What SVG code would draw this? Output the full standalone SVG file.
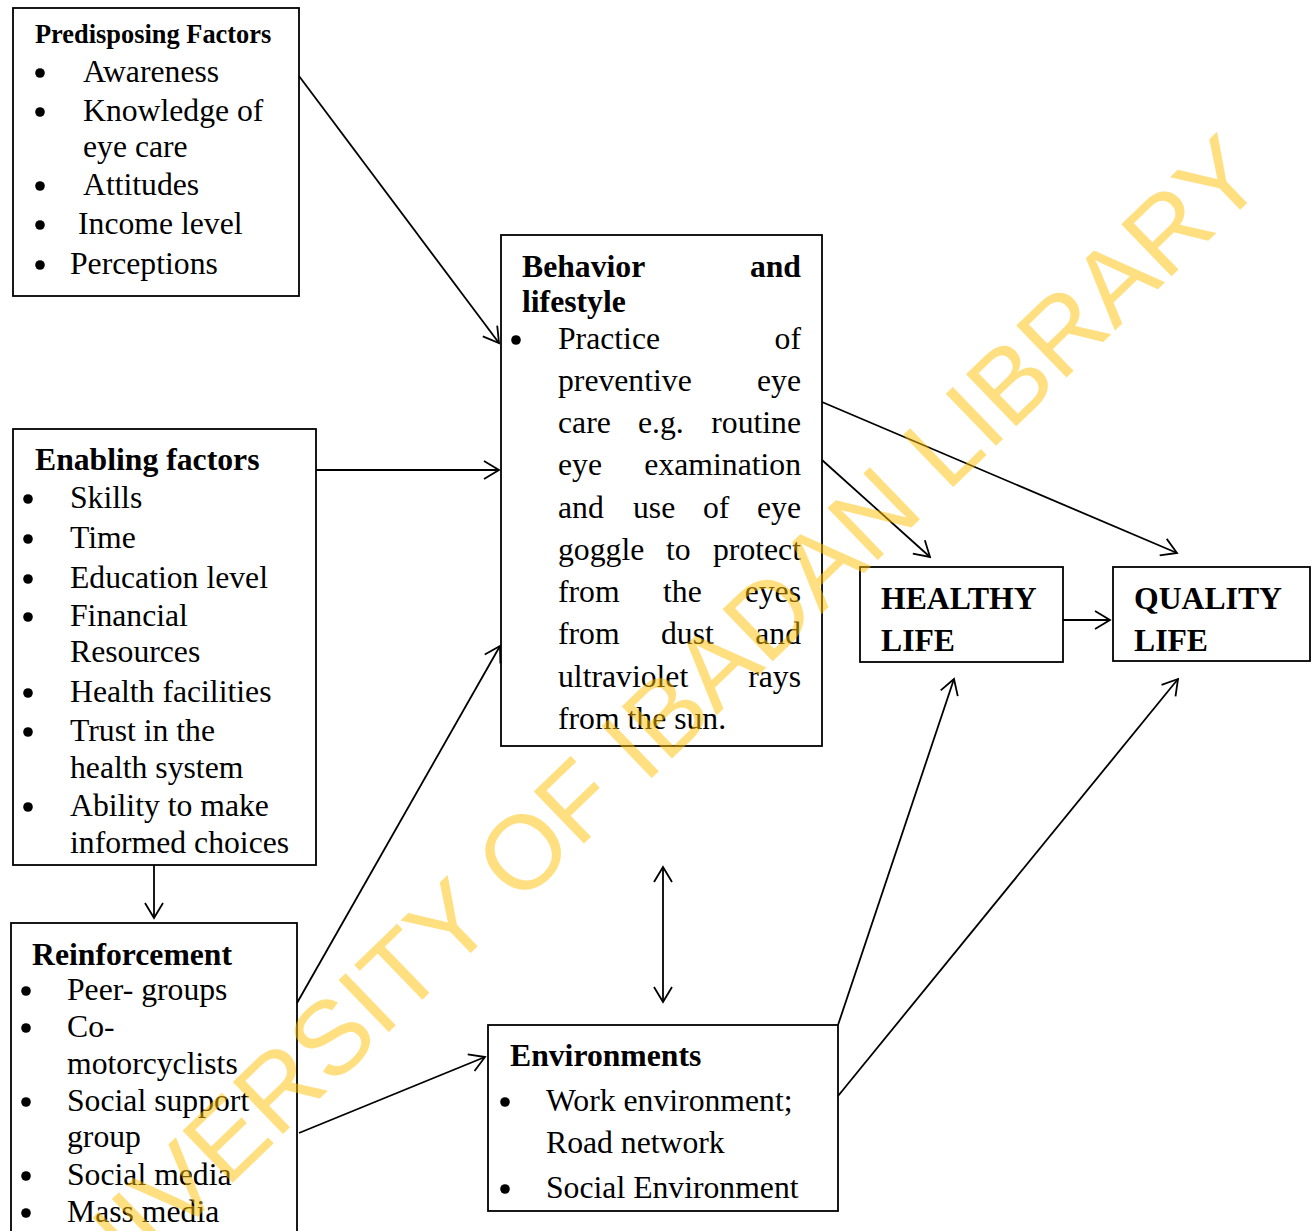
<svg xmlns="http://www.w3.org/2000/svg" width="1312" height="1231" viewBox="0 0 1312 1231">
<defs>
<style>
.box{fill:#fff;stroke:#000;stroke-width:1.8}
.t{font-family:"Liberation Serif","Times New Roman",serif;font-size:31.7px;fill:#000}
.b{font-weight:bold}
.h26{font-size:26.4px}
.r{text-anchor:end}
.dot{fill:#000}
.con{stroke:#000;stroke-width:1.8;fill:none}
.wm{font-family:"Liberation Sans",Arial,sans-serif;font-size:105px;fill:#FFC000;fill-opacity:0.5}
</style>
<marker id="ah" viewBox="0 0 18 20" markerUnits="userSpaceOnUse" markerWidth="18" markerHeight="20" refX="16" refY="10" orient="auto-start-reverse">
<path d="M1,1 L16,10 L1,19" fill="none" stroke="#000" stroke-width="1.8"/>
</marker>
</defs>
<rect width="1312" height="1231" fill="#fff"/>

<g id="predisposing">
<rect class="box" x="13" y="8" width="286" height="288"/>
<text class="t b h26" x="35" y="43">Predisposing Factors</text>
<circle class="dot" cx="40" cy="73" r="4.8"/><text class="t" x="83" y="82">Awareness</text>
<circle class="dot" cx="40" cy="112" r="4.8"/><text class="t" x="83" y="121">Knowledge of</text>
<text class="t" x="83" y="157">eye care</text>
<circle class="dot" cx="40" cy="186" r="4.8"/><text class="t" x="83" y="195">Attitudes</text>
<circle class="dot" cx="40" cy="225" r="4.8"/><text class="t" x="78" y="234">Income level</text>
<circle class="dot" cx="40" cy="265" r="4.8"/><text class="t" x="70" y="274">Perceptions</text>
</g>

<g id="enabling">
<rect class="box" x="13" y="429" width="303" height="436"/>
<text class="t b" x="35" y="470">Enabling factors</text>
<circle class="dot" cx="28" cy="499" r="4.8"/><text class="t" x="70" y="508">Skills</text>
<circle class="dot" cx="28" cy="539" r="4.8"/><text class="t" x="70" y="548">Time</text>
<circle class="dot" cx="28" cy="579" r="4.8"/><text class="t" x="70" y="588">Education level</text>
<circle class="dot" cx="28" cy="617" r="4.8"/><text class="t" x="70" y="626">Financial</text>
<text class="t" x="70" y="662">Resources</text>
<circle class="dot" cx="28" cy="693" r="4.8"/><text class="t" x="70" y="702">Health facilities</text>
<circle class="dot" cx="28" cy="732" r="4.8"/><text class="t" x="70" y="741">Trust in the</text>
<text class="t" x="70" y="778">health system</text>
<circle class="dot" cx="28" cy="807" r="4.8"/><text class="t" x="70" y="816">Ability to make</text>
<text class="t" x="70" y="853">informed choices</text>
</g>

<g id="reinforcement">
<rect class="box" x="11" y="923" width="286" height="320"/>
<text class="t b" x="32" y="965">Reinforcement</text>
<circle class="dot" cx="26" cy="991" r="4.8"/><text class="t" x="67" y="1000">Peer- groups</text>
<circle class="dot" cx="26" cy="1028" r="4.8"/><text class="t" x="67" y="1037">Co-</text>
<text class="t" x="67" y="1074">motorcyclists</text>
<circle class="dot" cx="26" cy="1102" r="4.8"/><text class="t" x="67" y="1111">Social support</text>
<text class="t" x="67" y="1147">group</text>
<circle class="dot" cx="26" cy="1176" r="4.8"/><text class="t" x="67" y="1185">Social media</text>
<circle class="dot" cx="26" cy="1213" r="4.8"/><text class="t" x="67" y="1222">Mass media</text>
</g>

<g id="behavior">
<rect class="box" x="501" y="235" width="321" height="511"/>
<text class="t b" x="522" y="277">Behavior</text><text class="t b r" x="801" y="277">and</text>
<text class="t b" x="522" y="312">lifestyle</text>
<circle class="dot" cx="516" cy="340" r="4.8"/>
<text class="t" x="558" y="349">Practice</text><text class="t r" x="801" y="349">of</text>
<text class="t" x="558" y="391">preventive</text><text class="t r" x="801" y="391">eye</text>
<text class="t" x="558" y="433">care</text><text class="t" x="638" y="433">e.g.</text><text class="t r" x="801" y="433">routine</text>
<text class="t" x="558" y="475">eye</text><text class="t r" x="801" y="475">examination</text>
<text class="t" x="558" y="518">and</text><text class="t" x="633" y="518">use</text><text class="t" x="703" y="518">of</text><text class="t r" x="801" y="518">eye</text>
<text class="t" x="558" y="560">goggle</text><text class="t" x="666" y="560">to</text><text class="t r" x="801" y="560">protect</text>
<text class="t" x="558" y="602">from</text><text class="t" x="663" y="602">the</text><text class="t r" x="801" y="602">eyes</text>
<text class="t" x="558" y="644">from</text><text class="t" x="661" y="644">dust</text><text class="t r" x="801" y="644">and</text>
<text class="t" x="558" y="687">ultraviolet</text><text class="t r" x="801" y="687">rays</text>
<text class="t" x="558" y="729">from the sun.</text>
</g>

<g id="healthy">
<rect class="box" x="860" y="567" width="203" height="95"/>
<text class="t b" x="881" y="609">HEALTHY</text>
<text class="t b" x="881" y="651">LIFE</text>
</g>

<g id="quality">
<rect class="box" x="1113" y="567" width="197" height="94"/>
<text class="t b" x="1134" y="609">QUALITY</text>
<text class="t b" x="1134" y="651">LIFE</text>
</g>

<g id="environments">
<rect class="box" x="488" y="1025" width="350" height="186"/>
<text class="t b" x="510" y="1066">Environments</text>
<circle class="dot" cx="505" cy="1102" r="4.8"/><text class="t" x="546" y="1111">Work environment;</text>
<text class="t" x="546" y="1153">Road network</text>
<circle class="dot" cx="505" cy="1189" r="4.8"/><text class="t" x="546" y="1198">Social Environment</text>
</g>

<g id="connectors">
<line class="con" x1="299" y1="76" x2="499" y2="343" marker-end="url(#ah)"/>
<line class="con" x1="316" y1="470" x2="499" y2="470" marker-end="url(#ah)"/>
<line class="con" x1="154" y1="865" x2="154" y2="918" marker-end="url(#ah)"/>
<line class="con" x1="297" y1="1003" x2="500" y2="646" marker-end="url(#ah)"/>
<line class="con" x1="299" y1="1133" x2="485" y2="1057" marker-end="url(#ah)"/>
<line class="con" x1="822" y1="460" x2="930" y2="557" marker-end="url(#ah)"/>
<line class="con" x1="822" y1="402" x2="1177" y2="553" marker-end="url(#ah)"/>
<line class="con" x1="1063" y1="620" x2="1110" y2="620" marker-end="url(#ah)"/>
<line class="con" x1="663" y1="867" x2="663" y2="1002" marker-start="url(#ah)" marker-end="url(#ah)"/>
<line class="con" x1="838" y1="1025" x2="954" y2="679" marker-end="url(#ah)"/>
<line class="con" x1="838" y1="1096" x2="1178" y2="679" marker-end="url(#ah)"/>
</g>

<text class="wm" transform="translate(46,1363) rotate(-44)">UNIVERSITY OF IBADAN LIBRARY</text>
</svg>
